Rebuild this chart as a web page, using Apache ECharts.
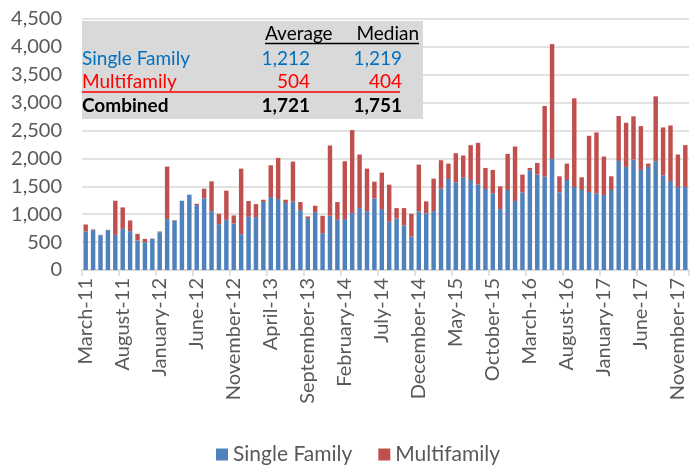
<!DOCTYPE html>
<html>
<head>
<meta charset="utf-8">
<script src="https://cdn.jsdelivr.net/npm/echarts@6/dist/echarts.min.js"></script>
<style>
  html, body { margin: 0; padding: 0; background: #fff; }
  #chart { width: 691px; height: 466px; }
</style>
</head>
<body>
<div id="chart"></div>
<script>
var months = [
  "March-11","April-11","May-11","June-11","July-11","August-11","September-11","October-11","November-11","December-11",
  "January-12","February-12","March-12","April-12","May-12","June-12","July-12","August-12","September-12","October-12","November-12","December-12",
  "January-13","February-13","March-13","April-13","May-13","June-13","July-13","August-13","September-13","October-13","November-13","December-13",
  "January-14","February-14","March-14","April-14","May-14","June-14","July-14","August-14","September-14","October-14","November-14","December-14",
  "January-15","February-15","March-15","April-15","May-15","June-15","July-15","August-15","September-15","October-15","November-15","December-15",
  "January-16","February-16","March-16","April-16","May-16","June-16","July-16","August-16","September-16","October-16","November-16","December-16",
  "January-17","February-17","March-17","April-17","May-17","June-17","July-17","August-17","September-17","October-17","November-17","December-17"
];

var singleFamily = [
  690, 714, 624, 714, 630, 738, 696, 528, 498, 558,
  678, 912, 888, 1242, 1350, 1164, 1284, 1056, 822, 900, 834, 642,
  954, 948, 1218, 1308, 1272, 1200, 1230, 1074, 930, 1038, 660, 972,
  900, 912, 1020, 1110, 1056, 1284, 1092, 864, 924, 798, 600, 1050,
  1014, 1056, 1458, 1632, 1572, 1662, 1614, 1530, 1452, 1374, 1092, 1434,
  1236, 1392, 1788, 1710, 1674, 1992, 1392, 1614, 1488, 1434, 1398, 1374,
  1344, 1434, 1956, 1848, 1980, 1794, 1848, 1950, 1698, 1596, 1488, 1488
];

var multifamily = [
  126, 12, 6, 6, 612, 384, 192, 120, 60, 6,
  12, 942, 6, 0, 0, 24, 174, 534, 186, 522, 144, 1176,
  282, 234, 42, 570, 738, 60, 714, 144, 30, 114, 312, 1260,
  318, 1038, 1488, 960, 762, 300, 654, 666, 186, 312, 408, 840,
  216, 582, 510, 276, 522, 390, 624, 750, 378, 420, 408, 648,
  978, 318, 42, 210, 1266, 2058, 288, 294, 1590, 228, 1008, 1092,
  690, 246, 804, 792, 774, 786, 60, 1164, 858, 996, 582, 750
];

var yTicks = [0, 500, 1000, 1500, 2000, 2500, 3000, 3500, 4000, 4500];

// summary table
var tableHeader = ["Average", "Median"];
var tableRows = [
  { name: "Single Family", avg: "1,212", med: "1,219", color: "#0070c0", bold: false },
  { name: "Multifamily", avg: "504", med: "404", color: "#ff0000", bold: false },
  { name: "Combined", avg: "1,721", med: "1,751", color: "#000000", bold: true }
];

var font = "Lato, 'Open Sans', sans-serif";

function buildTable() {
  var els = [];
  els.push({
    type: "rect",
    shape: { x: 82, y: 21, width: 341, height: 98 },
    style: { fill: "#d9d9d9" },
    z: 10
  });
  els.push({
    type: "text", x: 265, y: 34, z: 11,
    style: { text: tableHeader[0], font: "19px " + font, fill: "#000", verticalAlign: "middle", align: "left" }
  });
  els.push({
    type: "text", x: 419, y: 34, z: 11,
    style: { text: tableHeader[1], font: "19px " + font, fill: "#000", verticalAlign: "middle", align: "right" }
  });
  els.push({
    type: "line", z: 11,
    shape: { x1: 265, y1: 43.5, x2: 419, y2: 43.5 },
    style: { stroke: "#000", lineWidth: 1.5 }
  });
  var rowY = [59, 82, 106];
  for (var i = 0; i < tableRows.length; i++) {
    var r = tableRows[i];
    var f = (r.bold ? "bold " : "") + "19px " + font;
    els.push({ type: "text", x: 82, y: rowY[i], z: 11,
      style: { text: r.name, font: f, fill: r.color, verticalAlign: "middle", align: "left" } });
    els.push({ type: "text", x: 310, y: rowY[i], z: 11,
      style: { text: r.avg, font: f, fill: r.color, verticalAlign: "middle", align: "right" } });
    els.push({ type: "text", x: 402, y: rowY[i], z: 11,
      style: { text: r.med, font: f, fill: r.color, verticalAlign: "middle", align: "right" } });
  }
  els.push({
    type: "line", z: 11,
    shape: { x1: 82, y1: 92, x2: 400, y2: 92 },
    style: { stroke: "#ff0000", lineWidth: 1.5 }
  });
  return els;
}

var option = {
  animation: false,
  backgroundColor: "#ffffff",
  textStyle: { fontFamily: font },
  grid: { left: 82, right: 2, top: 19, bottom: 196 },
  legend: {
    left: 216,
    top: 444,
    icon: "rect",
    itemWidth: 12,
    itemHeight: 12,
    itemGap: 26,
    padding: 0,
    textStyle: { fontSize: 21, color: "#595959", fontFamily: font },
    data: ["Single Family", "Multifamily"]
  },
  xAxis: {
    type: "category",
    data: months,
    axisLine: { lineStyle: { color: "#d9d9d9", width: 1.5 } },
    axisTick: { show: true, interval: 4, length: 6, lineStyle: { color: "#d9d9d9", width: 1.5 } },
    axisLabel: { interval: 4, rotate: 90, fontSize: 20, color: "#595959", margin: 8, fontFamily: font }
  },
  yAxis: {
    type: "value",
    min: yTicks[0],
    max: yTicks[yTicks.length - 1],
    interval: 500,
    axisLine: { show: false },
    axisTick: { show: false },
    splitLine: { lineStyle: { color: "#d9d9d9", width: 1.5 } },
    axisLabel: {
      fontSize: 20, color: "#595959", margin: 20, fontFamily: font,
      formatter: function (v) { return v.toLocaleString("en-US"); }
    }
  },
  series: [
    {
      name: "Single Family",
      type: "bar",
      stack: "total",
      barCategoryGap: "40%",
      itemStyle: { color: "#4f81bd" },
      data: singleFamily
    },
    {
      name: "Multifamily",
      type: "bar",
      stack: "total",
      barCategoryGap: "40%",
      itemStyle: { color: "#c0504d" },
      data: multifamily
    }
  ],
  graphic: buildTable()
};

var myChart = echarts.init(document.getElementById("chart"));
myChart.setOption(option);
</script>
</body>
</html>
